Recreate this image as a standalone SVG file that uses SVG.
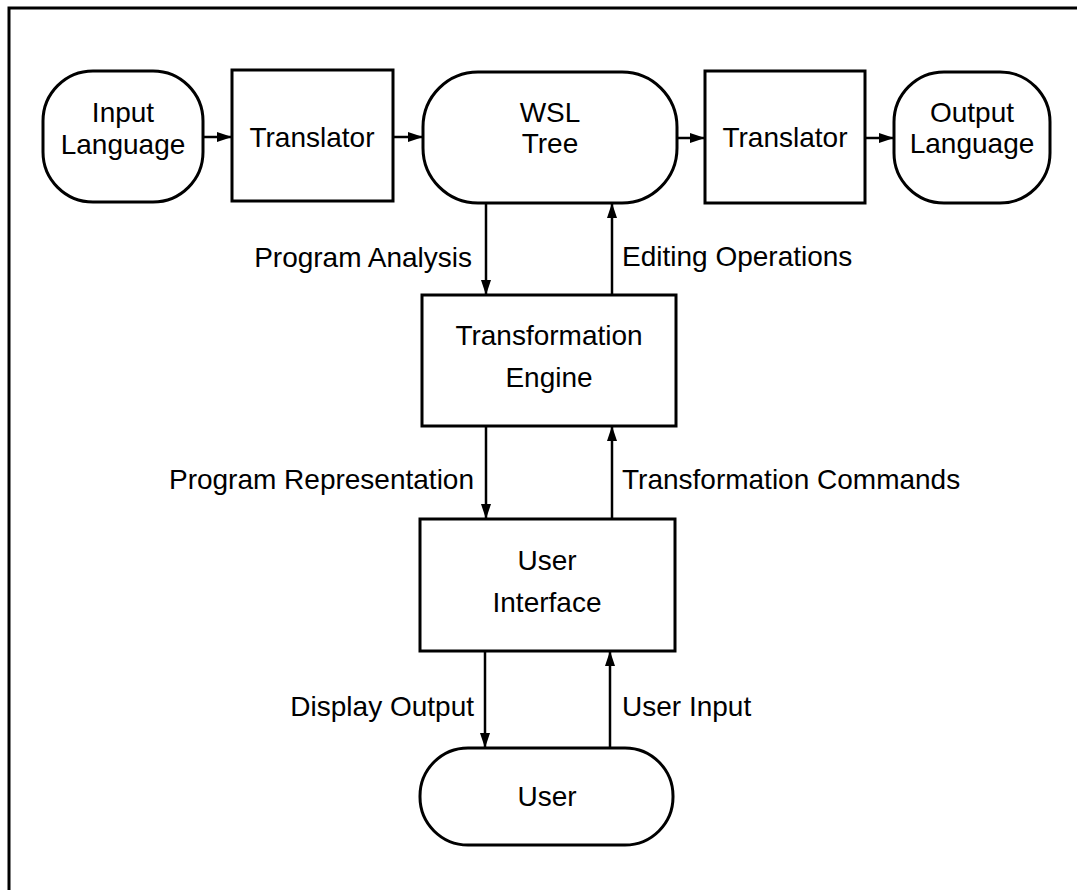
<svg xmlns="http://www.w3.org/2000/svg" width="1077" height="890" viewBox="0 0 1077 890">
<style>
.n{fill:#fff;stroke:#000;stroke-width:3}
.t{font-family:"Liberation Sans",Arial,sans-serif;font-size:28px;fill:#000;text-anchor:middle}
.l{font-family:"Liberation Sans",Arial,sans-serif;font-size:28px;fill:#000}
.c{stroke:#000;stroke-width:2.5;fill:none;marker-end:url(#ah)}
</style>
<defs>
<marker id="ah" markerUnits="userSpaceOnUse" markerWidth="16" markerHeight="12" refX="15" refY="6" orient="auto">
<path d="M0,1 L15,6 L0,11 Z" fill="#000"/>
</marker>
</defs>
<rect width="1077" height="890" fill="#fff"/>
<path d="M9,890 V8 H1077" fill="none" stroke="#000" stroke-width="3"/>
<g id="input-language">
<rect class="n" x="43" y="71" width="160" height="131" rx="50" ry="50"/>
<text class="t" x="123" y="122">Input</text>
<text class="t" x="123" y="154">Language</text>
</g>
<g id="translator-in">
<rect class="n" x="232" y="70" width="161" height="131"/>
<text class="t" x="312" y="147">Translator</text>
</g>
<g id="wsl-tree">
<rect class="n" x="423" y="72" width="254" height="131" rx="55" ry="55"/>
<text class="t" x="550" y="122">WSL</text>
<text class="t" x="550" y="153">Tree</text>
</g>
<g id="translator-out">
<rect class="n" x="705" y="71" width="160" height="132"/>
<text class="t" x="785" y="147">Translator</text>
</g>
<g id="output-language">
<rect class="n" x="894" y="72" width="156" height="131" rx="50" ry="50"/>
<text class="t" x="972" y="122">Output</text>
<text class="t" x="972" y="153">Language</text>
</g>
<g id="transformation-engine">
<rect class="n" x="422" y="295" width="254" height="131"/>
<text class="t" x="549" y="345">Transformation</text>
<text class="t" x="549" y="387">Engine</text>
</g>
<g id="user-interface">
<rect class="n" x="420" y="519" width="255" height="132"/>
<text class="t" x="547" y="570">User</text>
<text class="t" x="547" y="612">Interface</text>
</g>
<g id="user">
<rect class="n" x="420" y="748" width="253" height="97" rx="48" ry="48"/>
<text class="t" x="547" y="806">User</text>
</g>
<g id="connectors">
<line class="c" x1="203" y1="137" x2="232" y2="137"/>
<line class="c" x1="393" y1="137" x2="423" y2="137"/>
<line class="c" x1="677" y1="138" x2="705" y2="138"/>
<line class="c" x1="865" y1="138" x2="894" y2="138"/>
<line class="c" x1="486" y1="203" x2="486" y2="295"/>
<line class="c" x1="612" y1="295" x2="612" y2="203"/>
<line class="c" x1="486" y1="426" x2="486" y2="519"/>
<line class="c" x1="612" y1="519" x2="612" y2="426"/>
<line class="c" x1="485" y1="651" x2="485" y2="748"/>
<line class="c" x1="610" y1="748" x2="610" y2="651"/>
<text class="l" x="472" y="267" text-anchor="end">Program Analysis</text>
<text class="l" x="622" y="266">Editing Operations</text>
<text class="l" x="474" y="489" text-anchor="end">Program Representation</text>
<text class="l" x="622" y="489">Transformation Commands</text>
<text class="l" x="474" y="716" text-anchor="end">Display Output</text>
<text class="l" x="622" y="716">User Input</text>
</g>
</svg>
